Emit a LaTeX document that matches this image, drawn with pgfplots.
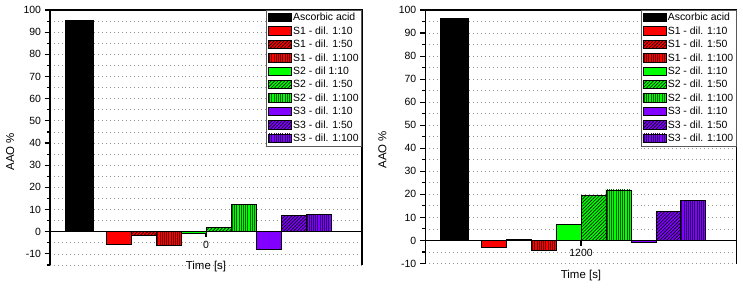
\documentclass[border=0pt]{standalone}
\usepackage{fontspec}
\setmainfont{Liberation Sans}
\usepackage{pgfplots}
\pgfplotsset{compat=1.18}
\usetikzlibrary{patterns.meta}

\definecolor{cR}{RGB}{255,0,0}
\definecolor{cG}{RGB}{0,255,0}
\definecolor{cP}{RGB}{130,0,255}
\definecolor{dR}{RGB}{100,0,0}
\definecolor{dG}{RGB}{0,90,0}
\definecolor{dP}{RGB}{45,0,100}
\definecolor{gridc}{RGB}{150,150,150}

\tikzset{
  hatch/.style={postaction={pattern color=#1, pattern={Lines[angle=45,distance=2.4pt,line width=0.65pt]}}},
  vstripe/.style={postaction={pattern color=#1, pattern={Lines[angle=90,distance=2.2pt,line width=0.7pt]}}},
}

\pgfplotsset{
  panel/.style={
    scale only axis,
    axis x line*=middle,
    axis y line*=left,
    xmin=-6.24, xmax=6.24,
    ymax=100,
    xtick={0},
    ytick={-10,0,10,20,30,40,50,60,70,80,90,100},
    minor ytick={-15,-5,5,15,25,35,45,55,65,75,85,95},
    ymajorgrids, yminorgrids,
    major grid style={gridc, line width=0.8pt, dash pattern=on 0.9pt off 3.1pt},
    minor grid style={gridc, line width=0.8pt, dash pattern=on 0.9pt off 3.1pt},
    tick align=outside,
    major tick length=5.5bp,
    minor tick length=3.5bp,
    axis line style={line width=1.1pt},
    every tick/.style={black, line width=1.1pt},
    tick label style={font=\fontsize{10.5}{12}\selectfont},
    /pgf/number format/assume math mode=true,
    clip=false,
    legend cell align=left,
    legend style={at={(1,1)}, anchor=north east, draw=black!65, line width=0.8pt,
      fill=white, font=\fontsize{10.5}{12}\selectfont,
      inner xsep=1.5bp, inner ysep=1.5bp, row sep=0.6bp,
      nodes={inner sep=1.5bp, text height=7.6bp, text depth=2.2bp}},
    legend image code/.code={\draw[#1, line width=0.7pt] (0bp,-3.4bp) rectangle (23bp,4.9bp);},
    every axis plot/.append style={ybar, bar shift=0pt, draw=black, line width=0.7pt},
  },
}

\begin{document}
\begin{tikzpicture}[x=1bp,y=1bp]
\useasboundingbox (0,0) rectangle (743,288);

% ---------------- left panel (t = 0 s) ----------------
\begin{axis}[panel,
  at={(50bp,23bp)}, anchor=south west,
  width=312bp, height=255bp,
  ymin=-15,
  xticklabels={0},
  xlabel={Time [s]}, ylabel={AAO \%},
  every axis x label/.style={at={(rel axis cs:0.5,0)}, anchor=center, yshift=-1.5bp, font=\fontsize{11.5}{13}\selectfont},
  every axis y label/.style={at={(axis description cs:-0.128,0.444)}, anchor=center, rotate=90, font=\fontsize{11.5}{13}\selectfont},
]
\addplot[bar width=1.13, fill=black] coordinates {(-5.07,95.5)};
\addplot[bar width=1, fill=cR] coordinates {(-3.5,-5.7)};
\addplot[bar width=1, fill=cR, hatch=black] coordinates {(-2.5,-1.8)};
\addplot[bar width=1, fill=cR, vstripe=dR] coordinates {(-1.5,-6.0)};
\addplot[bar width=1, fill=cG] coordinates {(-0.5,-0.9)};
\addplot[bar width=1, fill=cG, hatch=black] coordinates {(0.5,1.8)};
\addplot[bar width=1, fill=cG, vstripe=dG] coordinates {(1.5,12.2)};
\addplot[bar width=1, fill=cP] coordinates {(2.5,-7.8)};
\addplot[bar width=1, fill=cP, hatch=black] coordinates {(3.5,7.2)};
\addplot[bar width=1, fill=cP, vstripe=dP] coordinates {(4.5,7.8)};
\legend{Ascorbic acid, S1 - dil. 1:10, S1 - dil. 1:50, S1 - dil. 1:100, S2 - dil 1:10, S2 - dil. 1:50, S2 - dil. 1:100, S3 - dil. 1:10, S3 - dil. 1:50, S3 - dil. 1:100}
\draw[line width=1.1pt] (rel axis cs:0,1) -- (rel axis cs:1,1) -- (rel axis cs:1,0);
\end{axis}

% ---------------- right panel (t = 1200 s) ----------------
\begin{axis}[panel,
  at={(425.3bp,24.5bp)}, anchor=south west,
  width=311.4bp, height=253.5bp,
  ymin=-10,
  xticklabels={1200},
  xlabel={Time [s]}, ylabel={AAO \%},
  every axis x label/.style={at={(rel axis cs:0.5,0)}, anchor=center, yshift=-12bp, font=\fontsize{11.5}{13}\selectfont},
  every axis y label/.style={at={(axis description cs:-0.138,0.449)}, anchor=center, rotate=90, font=\fontsize{11.5}{13}\selectfont},
]
\addplot[bar width=1.13, fill=black] coordinates {(-5.07,96.4)};
\addplot[bar width=1, fill=cR] coordinates {(-3.5,-3.2)};
\addplot[bar width=1, fill=cR, hatch=black] coordinates {(-2.5,0.6)};
\addplot[bar width=1, fill=cR, vstripe=dR] coordinates {(-1.5,-4.3)};
\addplot[bar width=1, fill=cG] coordinates {(-0.5,7.0)};
\addplot[bar width=1, fill=cG, hatch=black] coordinates {(0.5,19.6)};
\addplot[bar width=1, fill=cG, vstripe=dG] coordinates {(1.5,21.9)};
\addplot[bar width=1, fill=cP] coordinates {(2.5,-0.9)};
\addplot[bar width=1, fill=cP, hatch=black] coordinates {(3.5,12.5)};
\addplot[bar width=1, fill=cP, vstripe=dP] coordinates {(4.5,17.2)};
\legend{Ascorbic acid, S1 - dil. 1:10, S1 - dil. 1:50, S1 - dil. 1:100, S2 - dil. 1:10, S2 - dil. 1:50, S2 - dil. 1:100, S3 - dil. 1:10, S3 - dil. 1:50, S3 - dil. 1:100}
\draw[line width=1.1pt] (rel axis cs:0,1) -- (rel axis cs:1,1) -- (rel axis cs:1,0);
\end{axis}
\end{tikzpicture}
\end{document}
